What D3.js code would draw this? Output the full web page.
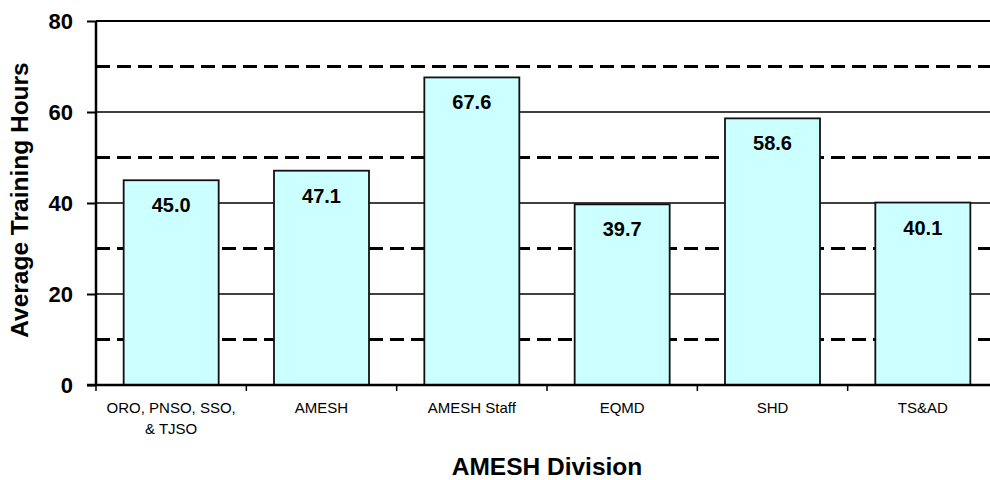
<!DOCTYPE html>
<html>
<head>
<meta charset="utf-8">
<script src="https://cdn.jsdelivr.net/npm/d3@7"></script>
<style>
  body { margin: 0; background: #fff; }
  svg { display: block; font-family: Arial, "Liberation Sans", sans-serif; }
</style>
</head>
<body>
<script>
// data
var categories = ["ORO, PNSO, SSO,|& TJSO", "AMESH", "AMESH Staff", "EQMD", "SHD", "TS&AD"];
var hours = [45.0, 47.1, 67.6, 39.7, 58.6, 40.1];
var solidTicks = [0, 20, 40, 60, 80];
var dashedTicks = [10, 30, 50, 70];

var W = 990, H = 480;
var margin = { top: 21, left: 96 },
    plotW = 902,
    plotH = 364;

var svg = d3.select("body").append("svg")
    .attr("width", W)
    .attr("height", H);

var g = svg.append("g")
    .attr("transform", "translate(" + margin.left + "," + margin.top + ")");

var x = d3.scaleBand().domain(categories).range([0, plotW])
    .paddingInner(0.368).paddingOuter(0.184);
var y = d3.scaleLinear().domain([0, 80]).range([plotH, 0]);

// gridlines
g.selectAll(".grid-solid").data(solidTicks.filter(function (d) { return d > 0; }))
  .enter().append("line")
    .attr("x1", 0).attr("x2", plotW)
    .attr("y1", function (d) { return y(d); })
    .attr("y2", function (d) { return y(d); })
    .attr("stroke", "#000")
    .attr("stroke-width", function (d) { return d === 80 ? 2 : 1.5; });

g.selectAll(".grid-dash").data(dashedTicks)
  .enter().append("line")
    .attr("x1", 0).attr("x2", plotW)
    .attr("y1", function (d) { return y(d); })
    .attr("y2", function (d) { return y(d); })
    .attr("stroke", "#000")
    .attr("stroke-width", 3)
    .attr("stroke-dasharray", "14,7");

// bars
g.selectAll(".bar").data(hours)
  .enter().append("rect")
    .attr("x", function (d, i) { return x(categories[i]); })
    .attr("y", function (d) { return y(d); })
    .attr("width", x.bandwidth())
    .attr("height", function (d) { return y(0) - y(d); })
    .attr("fill", "#ccffff")
    .attr("stroke", "#111")
    .attr("stroke-width", 1.8);

// value labels
g.selectAll(".val").data(hours)
  .enter().append("text")
    .attr("x", function (d, i) { return x(categories[i]) + x.bandwidth() / 2; })
    .attr("y", function (d) { return y(d) + 32; })
    .attr("text-anchor", "middle")
    .attr("font-size", 20)
    .attr("font-weight", "bold")
    .attr("fill", "#000")
    .text(function (d) { return d.toFixed(1); });

// y axis
var yAxis = g.append("g")
    .call(d3.axisLeft(y).tickValues(solidTicks).tickSize(9).tickPadding(14));
yAxis.select(".domain").remove();
yAxis.selectAll(".tick line").attr("stroke", "#000").attr("stroke-width", 2);
yAxis.selectAll(".tick text")
    .attr("font-size", 22)
    .attr("font-weight", "bold")
    .attr("font-family", "Arial, 'Liberation Sans', sans-serif")
    .attr("fill", "#000");

g.append("line")
    .attr("x1", 0).attr("x2", 0)
    .attr("y1", 0).attr("y2", plotH)
    .attr("stroke", "#000").attr("stroke-width", 2.5);

// x axis: ticks at band boundaries
var bounds = categories.map(function (c) { return x(c) - x.step() * x.paddingInner() / 2; });
bounds.push(plotW);
g.selectAll(".xtick").data(bounds)
  .enter().append("line")
    .attr("x1", function (d) { return d; })
    .attr("x2", function (d) { return d; })
    .attr("y1", plotH).attr("y2", plotH + 6)
    .attr("stroke", "#000").attr("stroke-width", 1.5);

g.append("line")
    .attr("x1", -9).attr("x2", plotW)
    .attr("y1", plotH).attr("y2", plotH)
    .attr("stroke", "#000").attr("stroke-width", 2.5);

// category labels
var cat = g.selectAll(".cat").data(categories)
  .enter().append("text")
    .attr("text-anchor", "middle")
    .attr("font-size", 15)
    .attr("fill", "#000")
    .attr("transform", function (d) {
      return "translate(" + (x(d) + x.bandwidth() / 2) + "," + (plotH + 28) + ")";
    });
cat.selectAll("tspan")
  .data(function (d) { return d.split("|"); })
  .enter().append("tspan")
    .attr("x", 0)
    .attr("dy", function (d, i) { return i === 0 ? 0 : 21; })
    .text(function (d) { return d; });

// axis titles
svg.append("text")
    .attr("x", margin.left + plotW / 2)
    .attr("y", 475)
    .attr("text-anchor", "middle")
    .attr("font-size", 24.5)
    .attr("font-weight", "bold")
    .text("AMESH Division");

svg.append("text")
    .attr("transform", "translate(28,200) rotate(-90)")
    .attr("text-anchor", "middle")
    .attr("font-size", 24.5)
    .attr("font-weight", "bold")
    .text("Average Training Hours");
</script>
</body>
</html>
